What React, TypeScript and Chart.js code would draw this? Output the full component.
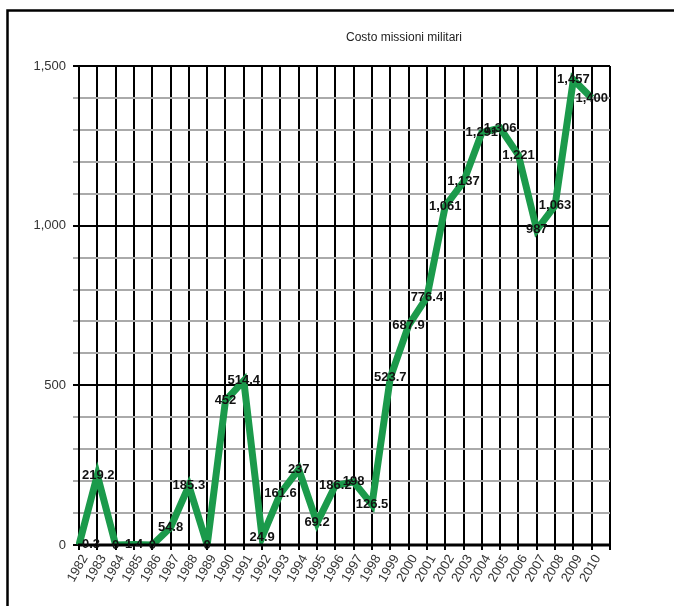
import React, { useEffect, useRef } from 'react';
import { Chart, registerables } from 'chart.js';

Chart.register(...registerables);

const FONT = '"Liberation Sans", Arial, Helvetica, sans-serif';

const chartTitle = 'Costo missioni militari';
const years = [
  1982, 1983, 1984, 1985, 1986, 1987, 1988, 1989, 1990, 1991, 1992, 1993, 1994, 1995,
  1996, 1997, 1998, 1999, 2000, 2001, 2002, 2003, 2004, 2005, 2006, 2007, 2008, 2009, 2010,
];
const costs = [
  0.3, 219.2, 0, 1.4, 0, 54.8, 185.3, 0, 452, 514.4, 24.9, 161.6, 237, 69.2,
  186.2, 198, 126.5, 523.7, 687.9, 776.4, 1061, 1137, 1291, 1306, 1221, 987, 1063, 1457, 1400,
];
const costLabels = [
  '0.3', '219.2', '0', '1,4', '0', '54.8', '185.3', '0', '452', '514.4', '24.9', '161.6', '237', '69.2',
  '186.2', '198', '126.5', '523.7', '687.9', '776.4', '1,061', '1,137', '1,291', '1,306', '1,221', '987', '1,063', '1,457', '1,400',
];
const yMajorTicks = [0, 500, 1000, 1500];

export default function App() {
  const ref = useRef<HTMLCanvasElement | null>(null);

  useEffect(() => {
    if (!ref.current) return;
    Chart.defaults.font.family = FONT;

    const framePlugin = {
      id: 'frame',
      beforeDraw(chart: any) {
        const ctx = chart.ctx;
        ctx.save();
        ctx.strokeStyle = '#000';
        ctx.lineWidth = 2.5;
        ctx.beginPath();
        ctx.moveTo(7.5, 606);
        ctx.lineTo(7.5, 10.5);
        ctx.lineTo(674, 10.5);
        ctx.stroke();
        ctx.fillStyle = '#222';
        ctx.font = '12px ' + FONT;
        ctx.textAlign = 'center';
        ctx.textBaseline = 'middle';
        ctx.fillText(chartTitle, 404, 38);
        ctx.restore();
      },
    };

    const labelPlugin = {
      id: 'valueLabels',
      afterDatasetsDraw(chart: any) {
        const ctx = chart.ctx;
        const area = chart.chartArea;
        ctx.save();
        // bottom axis line on top of the series
        ctx.strokeStyle = '#000';
        ctx.lineWidth = 3;
        ctx.beginPath();
        ctx.moveTo(area.left - 1, area.bottom);
        ctx.lineTo(area.right + 1, area.bottom);
        ctx.stroke();

        const meta = chart.getDatasetMeta(0);
        ctx.font = 'bold 13px ' + FONT;
        ctx.fillStyle = '#111';
        ctx.textAlign = 'center';
        ctx.textBaseline = 'middle';
        meta.data.forEach((pt: any, i: number) => {
          const txt = costLabels[i];
          const w = ctx.measureText(txt).width;
          const x = Math.max(pt.x, area.left + w / 2 + 3);
          ctx.fillText(txt, x, pt.y);
        });
        ctx.restore();
      },
    };

    const chart = new Chart(ref.current, {
      type: 'line',
      data: {
        datasets: [
          {
            data: years.map((yr, i) => ({ x: yr, y: costs[i] })),
            borderColor: '#1b9a4b',
            borderWidth: 7,
            pointRadius: 0,
            tension: 0,
            fill: false,
            borderJoinStyle: 'miter',
            clip: { left: 3, top: 4, right: 3, bottom: 0 },
          } as any,
        ],
      },
      options: {
        responsive: false,
        animation: false,
        devicePixelRatio: 1,
        layout: { padding: { left: 0, top: 66, right: 64, bottom: 0 } },
        plugins: {
          legend: { display: false },
          title: { display: false },
          tooltip: { enabled: false },
        },
        scales: {
          x: {
            type: 'linear',
            min: 1982,
            max: 2011,
            afterFit: (s: any) => {
              s.height = 61;
            },
            ticks: {
              stepSize: 1,
              autoSkip: false,
              maxRotation: 60,
              minRotation: 60,
              labelOffset: 6,
              padding: 2,
              color: '#333',
              font: { family: FONT, size: 13 },
              callback: (v: any) => (Number(v) >= 2011 ? '' : String(v)),
            },
            grid: { color: '#000', lineWidth: 2, tickLength: 5 },
            border: { display: false },
          },
          y: {
            min: 0,
            max: 1500,
            afterFit: (s: any) => {
              s.width = 79;
            },
            ticks: {
              stepSize: 100,
              padding: 7,
              color: '#333',
              font: { family: FONT, size: 13 },
              callback: (v: any) =>
                yMajorTicks.includes(Number(v)) ? Number(v).toLocaleString('en-US') : '',
            },
            grid: {
              color: (c: any) =>
                c.tick && yMajorTicks.includes(c.tick.value) ? '#000' : '#aaaaaa',
              lineWidth: 2,
              tickLength: 6,
            },
            border: { color: '#000', width: 2 },
          },
        },
      } as any,
      plugins: [framePlugin, labelPlugin],
    });

    return () => chart.destroy();
  }, []);

  return (
    <div style={{ position: 'absolute', left: 0, top: 0, width: 674, height: 606 }}>
      <canvas ref={ref} width={674} height={606} style={{ display: 'block', width: 674, height: 606 }} />
    </div>
  );
}
